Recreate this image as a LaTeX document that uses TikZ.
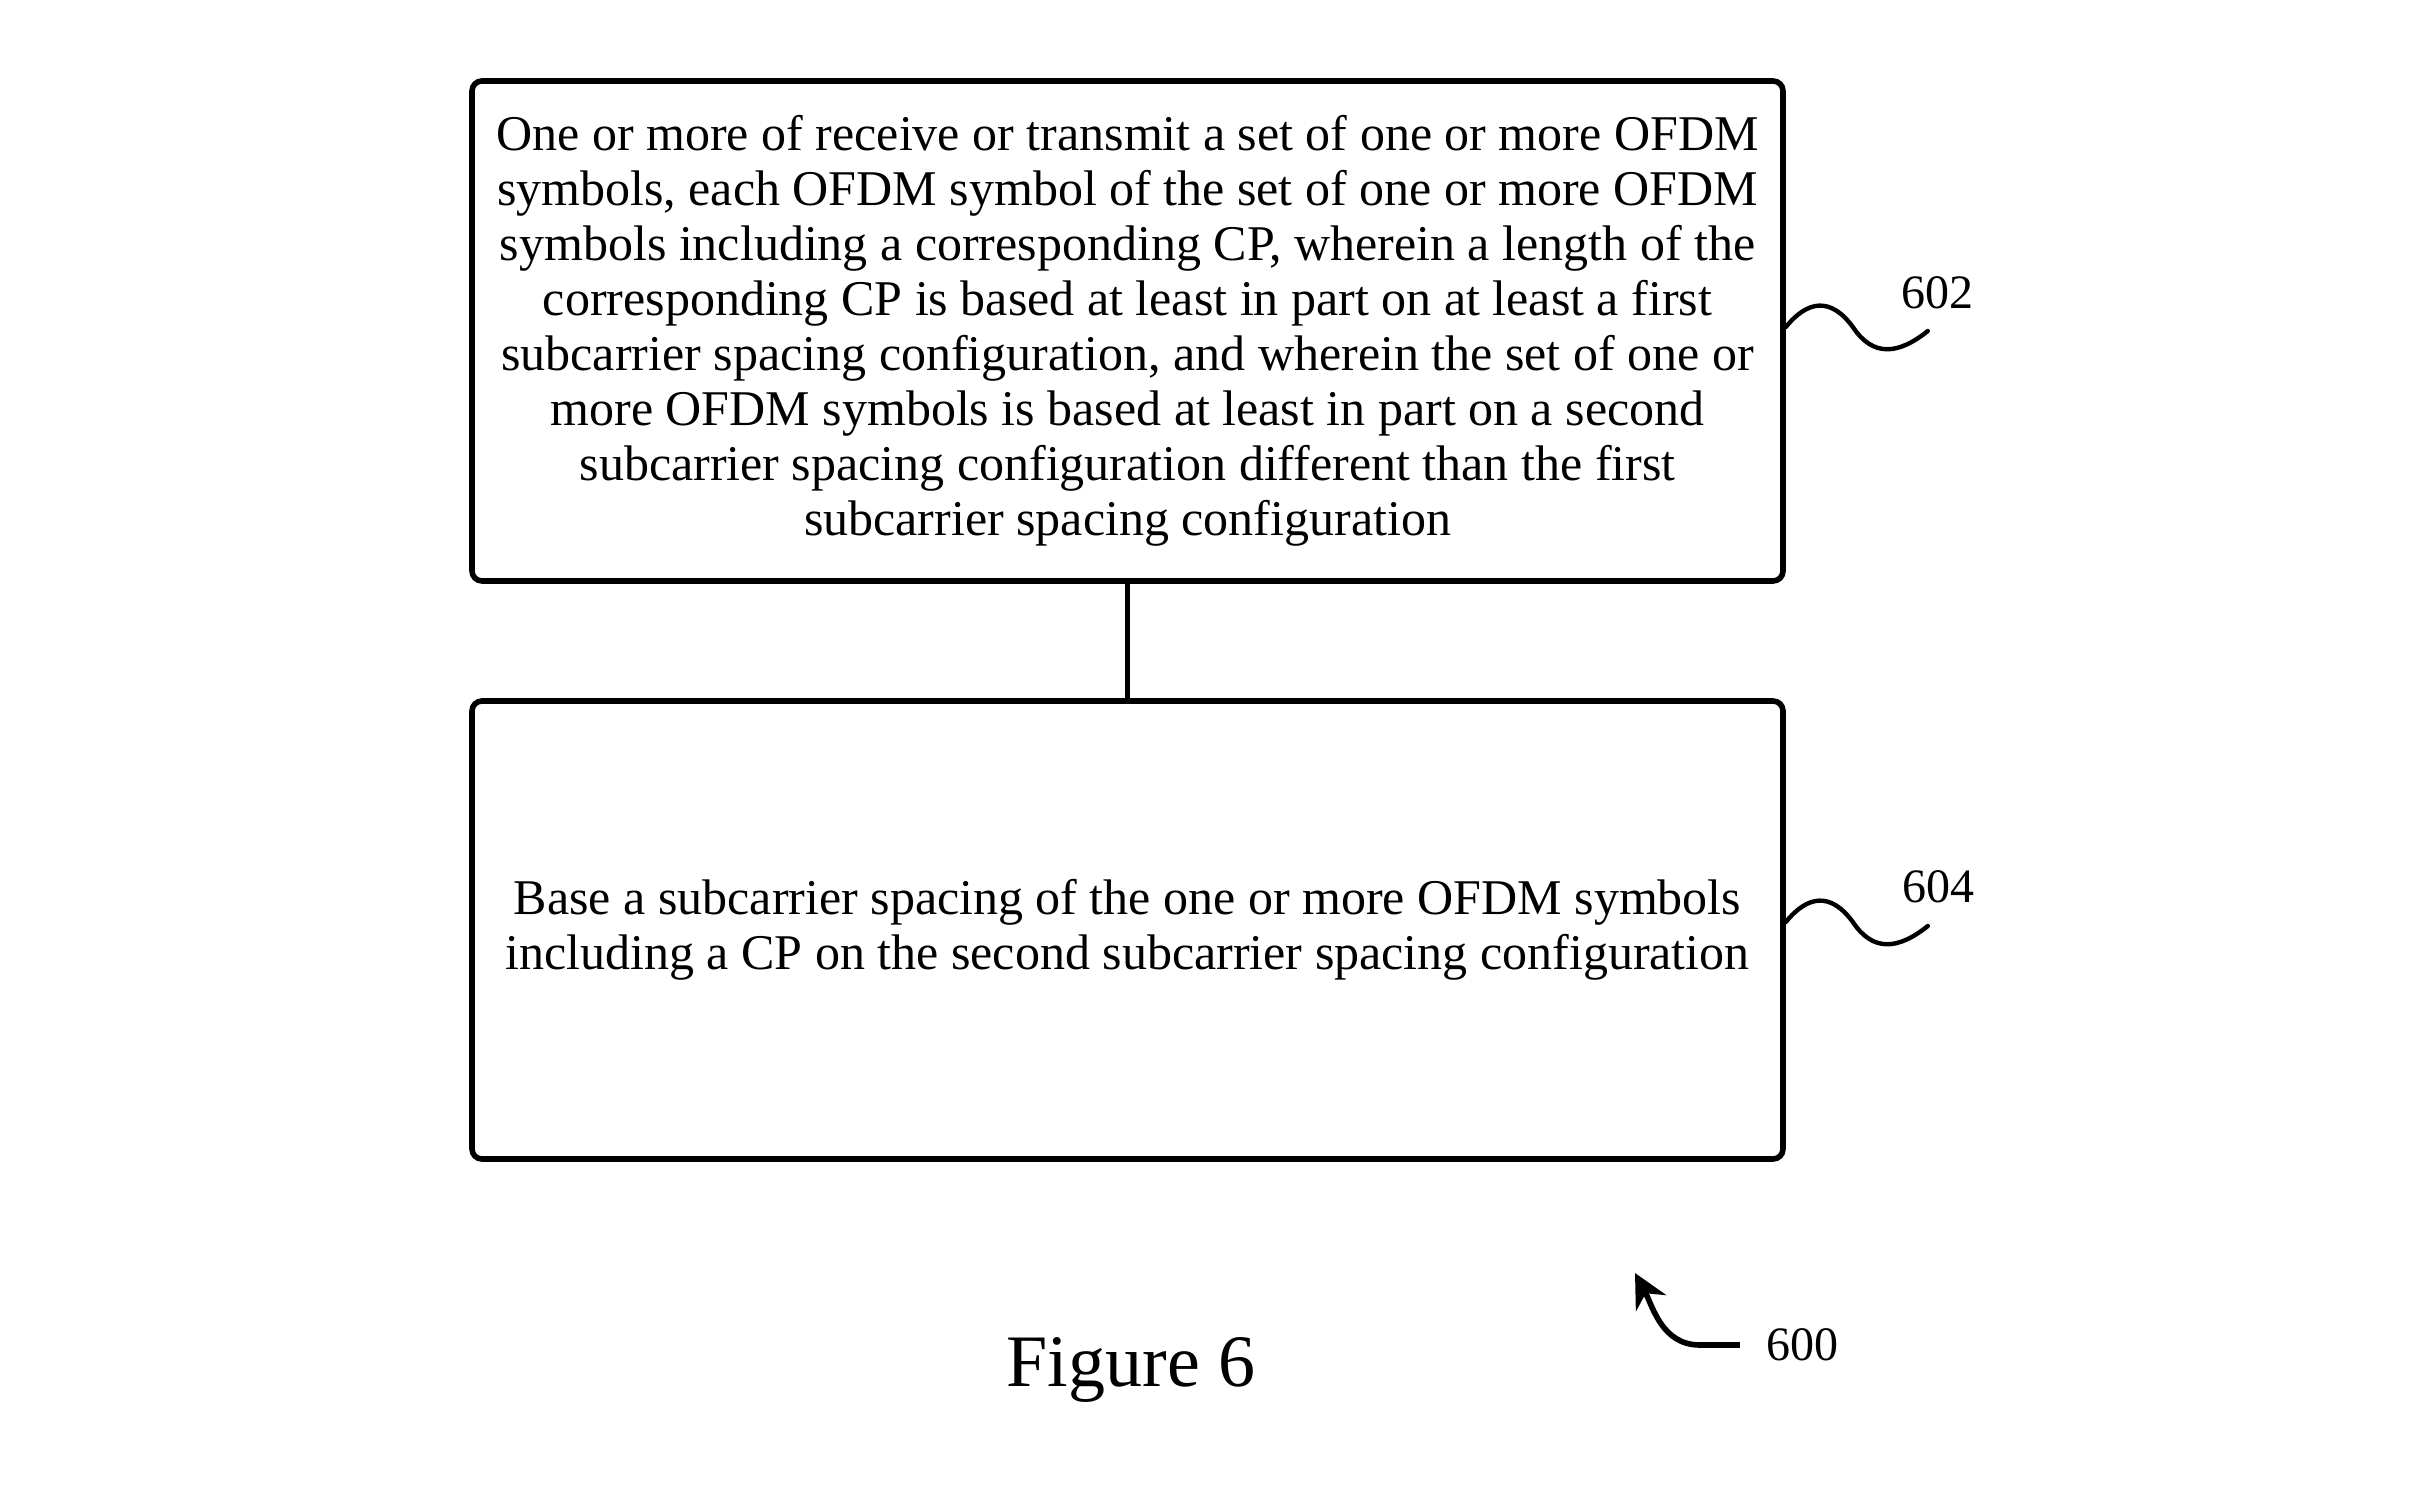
\documentclass[tikz,border=0pt]{standalone}
\usepackage{fontspec}
\setmainfont{Liberation Serif}
\usetikzlibrary{arrows.meta}
\tikzset{
  stepbox/.style={draw,line width=1.4pt,rounded corners=2.5pt,minimum width=327.75pt,inner sep=0pt},
  reftext/.style={font=\fontsize{12}{14}\selectfont},
  squiggle/.style={line width=1.1pt,line cap=round}
}
\begin{document}
\begin{tikzpicture}[x=0.25pt,y=-0.25pt]
  \useasboundingbox (0,0) rectangle (2436,1505);
  \node[stepbox,minimum height=125pt,align=center,font=\fontsize{12.5}{13.75}\selectfont] (box602) at (1127.5,331)
    {One or more of receive or transmit a set of one or more OFDM\\
     symbols, each OFDM symbol of the set of one or more OFDM\\
     symbols including a corresponding CP, wherein a length of the\\
     corresponding CP is based at least in part on at least a first\\
     subcarrier spacing configuration, and wherein the set of one or\\
     more OFDM symbols is based at least in part on a second\\
     subcarrier spacing configuration different than the first\\
     subcarrier spacing configuration};
  \node[stepbox,minimum height=114.5pt,align=center,font=\fontsize{12.5}{13.75}\selectfont] (box604) at (1127.5,930)
    {Base a subcarrier spacing of the one or more OFDM symbols\\
     including a CP on the second subcarrier spacing configuration};
  \draw[line width=1.4pt] (box602.south) -- (box604.north);
  % reference numerals
  \node[reftext] (n602) at (1937,293) {602};
  \node[reftext] (n604) at (1938,887) {604};
  \node[reftext] (n600) at (1802,1345) {600};
  \draw[squiggle] ([yshift=1pt]box602.east) .. controls +(22,-27) and +(-22,-30) .. ++(67,0)
    .. controls +(20,30) and +(-30,24) .. ++(75,4);
  \draw[squiggle] ([yshift=2pt]box604.east) .. controls +(22,-27) and +(-22,-30) .. ++(67,0)
    .. controls +(20,30) and +(-30,24) .. ++(75,4);
  \coordinate (tip600) at (1635,1273);
  \draw[line width=1.4pt,-{Stealth[length=8.5pt,width=8.5pt]}] ([xshift=-3pt]n600.west) -- ++(-40,0)
    to[out=180,in=-62] (tip600);
  \node[font=\fontsize{18.5}{20}\selectfont] (fig) at (1131,1370) {Figure 6};
\end{tikzpicture}
\end{document}
